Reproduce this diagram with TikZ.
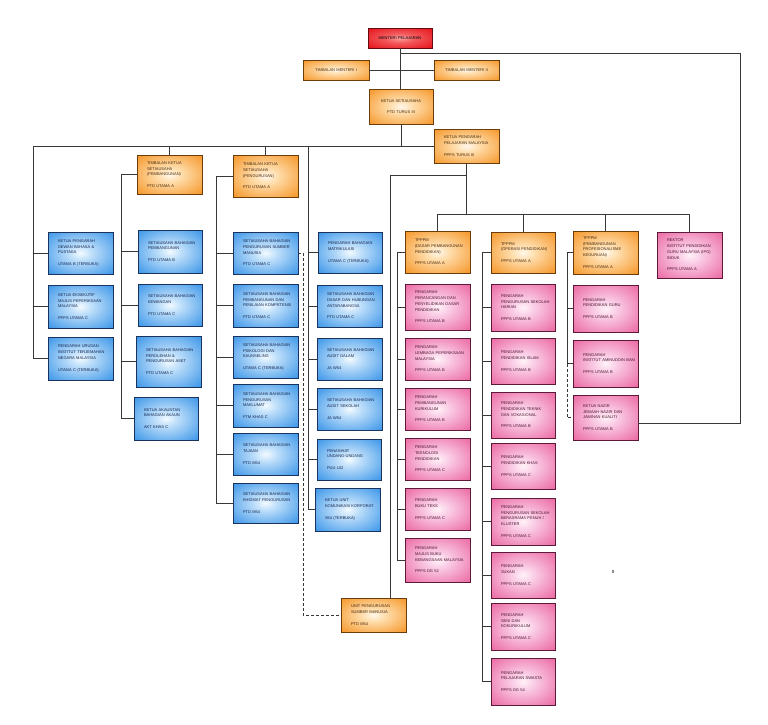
\documentclass[tikz,border=0pt]{standalone}
\usepackage{fontspec}
\setmainfont{Liberation Sans}
\definecolor{orgline}{rgb}{0.42,0.24,0.04}
\definecolor{orgtext}{rgb}{0.28,0.16,0.05}
\definecolor{blueline}{rgb}{0.10,0.20,0.36}
\definecolor{bluetext}{rgb}{0.08,0.14,0.30}
\definecolor{pinkline}{rgb}{0.36,0.10,0.22}
\definecolor{pinktext}{rgb}{0.30,0.08,0.18}
\definecolor{redline}{rgb}{0.40,0.04,0.06}
\definecolor{linkgray}{rgb}{0.22,0.22,0.22}
\pgfdeclareradialshading{orgglow}{\pgfpoint{0bp}{0bp}}{rgb(0bp)=(1,0.97,0.92); rgb(9bp)=(1,0.87,0.68); rgb(36bp)=(0.96,0.58,0.14); rgb(50bp)=(0.93,0.50,0.07); rgb(100bp)=(0.93,0.50,0.07)}
\pgfdeclareradialshading{blueglow}{\pgfpoint{0bp}{0bp}}{rgb(0bp)=(0.95,0.98,1); rgb(9bp)=(0.74,0.87,0.98); rgb(36bp)=(0.22,0.58,0.91); rgb(50bp)=(0.16,0.52,0.88); rgb(100bp)=(0.16,0.52,0.88)}
\pgfdeclareradialshading{pinkglow}{\pgfpoint{0bp}{0bp}}{rgb(0bp)=(1,0.95,0.97); rgb(9bp)=(0.98,0.80,0.90); rgb(36bp)=(0.92,0.40,0.63); rgb(50bp)=(0.90,0.33,0.58); rgb(100bp)=(0.90,0.33,0.58)}
\pgfdeclareradialshading{redglow}{\pgfpoint{0bp}{0bp}}{rgb(0bp)=(0.99,0.62,0.62); rgb(12bp)=(0.95,0.35,0.36); rgb(34bp)=(0.90,0.08,0.11); rgb(50bp)=(0.88,0.05,0.10); rgb(100bp)=(0.88,0.05,0.10)}
\newcommand\bx[7]{%
  \pgfmathsetmacro\bxw{#4-#2}\pgfmathsetmacro\bxh{#5-#3}%
  \pgfmathsetmacro\bxt{#4-#2-20}%
  \pgfmathsetmacro\bxx{(#2+#4)/2}\pgfmathsetmacro\bxy{(#3+#5)/2}%
  \node[#1, minimum width=\bxw pt, minimum height=\bxh pt, text width=\bxt pt] (#6) at (\bxx,\bxy) {#7};}
\begin{document}
\begin{tikzpicture}[x=1pt,y=-1pt,
  box/.style={draw, line width=0.8pt, inner xsep=10pt, inner ysep=1pt, align=left,
    font={\fontsize{4}{5.8}\selectfont\hyphenpenalty=10000\exhyphenpenalty=10000\hbadness=10000\hfuzz=100pt}},
  orgbox/.style={box, shading=orgglow, draw=orgline, text=orgtext},
  orgc/.style={orgbox, align=center},
  bluebox/.style={box, shading=blueglow, draw=blueline, text=bluetext},
  pinkbox/.style={box, shading=pinkglow, draw=pinkline, text=pinktext},
  redbox/.style={box, shading=redglow, draw=redline, text=black, align=center},
  link/.style={line width=0.9pt, draw=linkgray},
  dashlink/.style={link, dash pattern=on 3pt off 2pt}]
\fill[white] (0,0) rectangle (768,724);
\useasboundingbox (0,0) rectangle (768,724);

% top
\bx{redbox}{368}{28}{432}{48}{min}{MENTERI~PELAJARAN}
\bx{orgc}{303}{60}{369}{80}{tm1}{TIMBALAN~MENTERI~I}
\bx{orgc}{434}{60}{499}{80}{tm2}{TIMBALAN~MENTERI~II}
\bx{orgc}{369}{89}{433}{124}{ksu}{KETUA~SETIAUSAHA\\[5.8pt]PTD~TURUS~III}
\bx{orgbox}{434}{129}{499}{163}{kpp}{KETUA~PENGARAH\\PELAJARAN~MALAYSIA\\[5.8pt]PPPS~TURUS~III}

% TKSU
\bx{orgbox}{137}{155}{202}{194}{tk1}{TIMBALAN~KETUA\\SETIAUSAHA\\(PEMBANGUNAN)\\[5.8pt]PTD~UTAMA~A}
\bx{orgbox}{233}{155}{298}{197}{tk2}{TIMBALAN~KETUA\\SETIAUSAHA\\(PENGURUSAN)\\[5.8pt]PTD~UTAMA~A}

% left column
\bx{bluebox}{48}{232}{113}{274}{L1}{KETUA~PENGARAH\\DEWAN~BAHASA~\&\\PUSTAKA\\[5.8pt]UTAMA~B~(TERBUKA)}
\bx{bluebox}{48}{285}{113}{328}{L2}{KETUA~EKSEKUTIF\\MAJLIS~PEPERIKSAAN\\MALAYSIA\\[5.8pt]PPPS~UTAMA~C}
\bx{bluebox}{48}{337}{113}{380}{L3}{PENGARAH~URUSAN\\INSTITUT~TERJEMAHAN\\NEGARA~MALAYSIA\\[5.8pt]UTAMA~C~(TERBUKA)}

% column A
\bx{bluebox}{138}{230}{202}{273}{A1}{SETIAUSAHA~BAHAGIAN\\PEMBANGUNAN\\[5.8pt]PTD~UTAMA~B}
\bx{bluebox}{138}{284}{202}{326}{A2}{SETIAUSAHA~BAHAGIAN\\KEWANGAN\\[5.8pt]PTD~UTAMA~C}
\bx{bluebox}{136}{336}{201}{387}{A3}{SETIAUSAHA~BAHAGIAN\\PEROLEHAN~\&\\PENGURUSAN~ASET\\[5.8pt]PTD~UTAMA~C}
\bx{bluebox}{134}{397}{198}{440}{A4}{KETUA~AKAUNTAN\\BAHAGIAN~AKAUN\\[5.8pt]AKT~KHAS~C}

% column B
\bx{bluebox}{233}{232}{298}{274}{B1}{SETIAUSAHA~BAHAGIAN\\PENGURUSAN~SUMBER\\MANUSIA\\[5.8pt]PTD~UTAMA~C}
\bx{bluebox}{233}{284}{298}{327}{B2}{SETIAUSAHA~BAHAGIAN\\PEMBANGUNAN~DAN\\PENILAIAN~KOMPETENSI\\[5.8pt]PTD~UTAMA~C}
\bx{bluebox}{233}{336}{298}{378}{B3}{SETIAUSAHA~BAHAGIAN\\PSIKOLOGI~DAN\\KAUNSELING\\[5.8pt]UTAMA~C~(TERBUKA)}
\bx{bluebox}{233}{384}{298}{427}{B4}{SETIAUSAHA~BAHAGIAN\\PENGURUSAN\\MAKLUMAT\\[5.8pt]FTM~KHAS~C}
\bx{bluebox}{233}{433}{298}{475}{B5}{SETIAUSAHA~BAHAGIAN\\TAJAAN\\[5.8pt]PTD~M54}
\bx{bluebox}{233}{483}{298}{523}{B6}{SETIAUSAHA~BAHAGIAN\\KHIDMAT~PENGURUSAN\\[5.8pt]PTD~M54}

% column C
\bx{bluebox}{318}{232}{382}{273}{C1}{PENGARAH~BAHAGIAN\\MATRIKULASI\\[5.8pt]UTAMA~C~(TERBUKA)}
\bx{bluebox}{317}{285}{382}{327}{C2}{SETIAUSAHA~BAHAGIAN\\DASAR~DAN~HUBUNGAN\\ANTARABANGSA\\[5.8pt]PTD~UTAMA~C}
\bx{bluebox}{317}{338}{382}{380}{C3}{SETIAUSAHA~BAHAGIAN\\AUDIT~DALAM\\[5.8pt]JA~W54}
\bx{bluebox}{317}{388}{382}{430}{C4}{SETIAUSAHA~BAHAGIAN\\AUDIT~SEKOLAH\\[5.8pt]JA~W54}
\bx{bluebox}{317}{439}{381}{480}{C5}{PENASIHAT\\UNDANG-UNDANG\\[5.8pt]PUU~L52}
\bx{bluebox}{315}{488}{380}{531}{C6}{KETUA~UNIT\\KOMUNIKASI~KORPORAT\\[5.8pt]S54~(TERBUKA)}

% column D
\bx{orgbox}{405}{231}{470}{273}{T1}{TPPPM\\(DASAR~PEMBANGUNAN\\PENDIDIKAN)\\[5.8pt]PPPS~UTAMA~A}
\bx{pinkbox}{405}{284}{470}{330}{D1}{PENGARAH\\PERANCANGAN~DAN\\PENYELIDIKAN~DASAR\\PENDIDIKAN\\[5.8pt]PPPS~UTAMA~B}
\bx{pinkbox}{405}{338}{470}{380}{D2}{PENGARAH\\LEMBAGA~PEPERIKSAAN\\MALAYSIA\\[5.8pt]PPPS~UTAMA~B}
\bx{pinkbox}{405}{388}{470}{430}{D3}{PENGARAH\\PEMBANGUNAN\\KURIKULUM\\[5.8pt]PPPS~UTAMA~B}
\bx{pinkbox}{405}{438}{470}{480}{D4}{PENGARAH\\TEKNOLOGI\\PENDIDIKAN\\[5.8pt]PPPS~UTAMA~C}
\bx{pinkbox}{405}{488}{470}{530}{D5}{PENGARAH\\BUKU~TEKS\\[5.8pt]PPPS~UTAMA~C}
\bx{pinkbox}{405}{538}{470}{582}{D6}{PENGARAH\\MAJLIS~BUKU\\KEBANGSAAN~MALAYSIA\\[5.8pt]PPPS~DG~52}

% column E
\bx{orgbox}{491}{232}{555}{273}{T2}{TPPPM\\(OPERASI~PENDIDIKAN)\\[5.8pt]PPPS~UTAMA~A}
\bx{pinkbox}{491}{284}{555}{331}{E1}{PENGARAH\\PENGURUSAN~SEKOLAH\\HARIAN\\[5.8pt]PPPS~UTAMA~B}
\bx{pinkbox}{491}{338}{555}{384}{E2}{PENGARAH\\PENDIDIKAN~ISLAM\\[5.8pt]PPPS~UTAMA~B}
\bx{pinkbox}{491}{392}{555}{438}{E3}{PENGARAH\\PENDIDIKAN~TEKNIK\\DAN~VOKASIONAL\\[5.8pt]PPPS~UTAMA~B}
\bx{pinkbox}{491}{443}{555}{489}{E4}{PENGARAH\\PENDIDIKAN~KHAS\\[5.8pt]PPPS~UTAMA~C}
\bx{pinkbox}{491}{498}{555}{545}{E5}{PENGARAH\\PENGURUSAN~SEKOLAH\\BERASRAMA~PENUH~/\\KLUSTER\\[5.8pt]PPPS~UTAMA~C}
\bx{pinkbox}{491}{552}{555}{598}{E6}{PENGARAH\\SUKAN\\[5.8pt]PPPS~UTAMA~C}
\bx{pinkbox}{491}{603}{555}{650}{E7}{PENGARAH\\SENI~DAN\\KOKURIKULUM\\[5.8pt]PPPS~UTAMA~C}
\bx{pinkbox}{491}{658}{555}{705}{E8}{PENGARAH\\PELAJARAN~SWASTA\\[5.8pt]PPPS~DG~54}

% column F
\bx{orgbox}{573}{231}{638}{274}{T3}{TPPPM\\(PEMBANGUNAN\\PROFESIONALISME\\KEGURUAN)\\[5.8pt]PPPS~UTAMA~A}
\bx{pinkbox}{573}{285}{638}{332}{F1}{PENGARAH\\PENDIDIKAN~GURU\\[5.8pt]PPPS~UTAMA~B}
\bx{pinkbox}{573}{340}{638}{387}{F2}{PENGARAH\\INSTITUT~AMINUDDIN~BAKI\\[5.8pt]PPPS~UTAMA~B}
\bx{pinkbox}{573}{395}{638}{440}{F3}{KETUA~NAZIR\\JEMAAH~NAZIR~DAN\\JAMINAN~KUALITI\\[5.8pt]PPPS~UTAMA~B}

% rektor
\bx{pinkbox}{657}{232}{722}{278}{rek}{REKTOR\\INSTITUT~PENDIDIKAN\\GURU~MALAYSIA~(IPG)\\INDUK\\[5.8pt]PPPS~UTAMA~A}

% unit
\bx{orgbox}{341}{598}{406}{632}{ups}{UNIT~PENGURUSAN\\SUMBER~MANUSIA\\[5.8pt]PTD~M54}

% coordinates
\coordinate (busL) at (33,146);
\coordinate (xa) at (121,0);
\coordinate (xb) at (216,0);
\coordinate (xc) at (308,146);
\coordinate (xd) at (303,0);
\coordinate (kb) at (0,214);
\coordinate (ue) at (390,175);
\coordinate (x5) at (397,0);
\coordinate (x6) at (482,0);
\coordinate (x7) at (567,0);
\coordinate (r1) at (740,53);
\coordinate (r2) at (740,423);

% connectors
\draw[link] (min.south) -- (min.south |- ksu.north);
\draw[link] (tm1) -- (tm2);
\draw[link] (min.south |- r1) -- (r1) -- (r2) -- (F3.east |- r2);
\draw[link] (ksu.south) |- (busL);
\draw[link] (busL) |- (L3.west);
\foreach \n in {L1,L2} \draw[link] (busL |- \n.west) -- (\n.west);
\draw[link] (ksu.south |- kpp.west) -- (kpp.west);
\draw[link] (tk1.north |- busL) -- (tk1.north);
\draw[link] (tk2.north |- busL) -- (tk2.north);
\draw[link] (tk1.west) -- (tk1.west -| xa) |- (A4.west);
\foreach \n in {A1,A2,A3} \draw[link] (\n.west -| xa) -- (\n.west);
\draw[link] (tk2.west) -- (tk2.west -| xb) |- (B6.west);
\foreach \n in {B1,B2,B3,B4,B5} \draw[link] (\n.west -| xb) -- (\n.west);
\draw[link] (xc) |- (C6.west);
\foreach \n in {C1,C2,C3,C4,C5} \draw[link] (\n.west -| xc) -- (\n.west);
\draw[dashlink] (B1.east) -| (ups.west -| xd) -- (ups.west);
\draw[link] (kpp.south) -- (kpp.south |- kb);
\draw[link] (T1.north |- kb) -- (rek.north |- kb);
\foreach \n in {T1,T2,T3,rek} \draw[link] (\n.north |- kb) -- (\n.north);
\draw[link] (kpp.south |- ue) -- (ue) -- (ue |- ups.north);
\draw[link] (T1.west) -- (T1.west -| x5) |- (D6.west);
\foreach \n in {D1,D2,D3,D4,D5} \draw[link] (\n.west -| x5) -- (\n.west);
\draw[link] (T2.west) -- (T2.west -| x6) |- (E8.west);
\foreach \n in {E1,E2,E3,E4,E5,E6,E7} \draw[link] (\n.west -| x6) -- (\n.west);
\draw[link] (T3.west) -- (T3.west -| x7) |- (F2.west);
\draw[link] (F1.west -| x7) -- (F1.west);
\draw[dashlink] (F2.west -| x7) |- (F3.west);

\fill[black!45] (612,570) rectangle (614,573);
\end{tikzpicture}
\end{document}
